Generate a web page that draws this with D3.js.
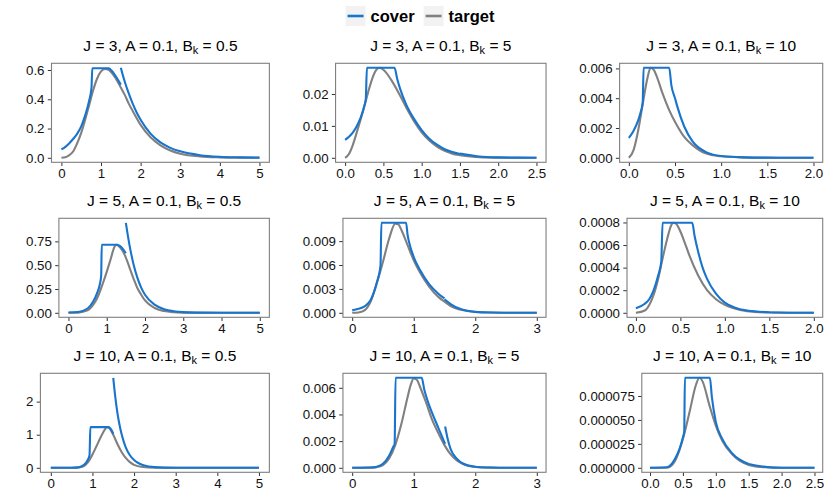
<!DOCTYPE html>
<html><head><meta charset="utf-8">
<script src="https://cdn.jsdelivr.net/npm/d3@7"></script>
<style>body{margin:0;background:#fff}svg{display:block}</style>
</head><body>
<svg id="chart" width="830" height="498"></svg>
<script>
// ---------- data ----------
const seriesNames = ["cover", "target"];
const jValues = [3, 3, 3, 5, 5, 5, 10, 10, 10];
const aValues = ["0.1", "0.1", "0.1", "0.1", "0.1", "0.1", "0.1", "0.1", "0.1"];
const bValues = ["0.5", "5", "10", "0.5", "5", "10", "0.5", "5", "10"];
const xMaxes = [5, 2.5, 2, 5, 3, 2, 5, 3, 2.5];

const xTicks = [
  [0, 1, 2, 3, 4, 5], [0, 0.5, 1, 1.5, 2, 2.5], [0, 0.5, 1, 1.5, 2],
  [0, 1, 2, 3, 4, 5], [0, 1, 2, 3], [0, 0.5, 1, 1.5, 2],
  [0, 1, 2, 3, 4, 5], [0, 1, 2, 3], [0, 0.5, 1, 1.5, 2, 2.5]
];
const xTickLabels = [
  ["0", "1", "2", "3", "4", "5"], ["0.0", "0.5", "1.0", "1.5", "2.0", "2.5"], ["0.0", "0.5", "1.0", "1.5", "2.0"],
  ["0", "1", "2", "3", "4", "5"], ["0", "1", "2", "3"], ["0.0", "0.5", "1.0", "1.5", "2.0"],
  ["0", "1", "2", "3", "4", "5"], ["0", "1", "2", "3"], ["0.0", "0.5", "1.0", "1.5", "2.0", "2.5"]
];
const yTicks = [
  [0, 0.2, 0.4, 0.6], [0, 0.01, 0.02], [0, 0.002, 0.004, 0.006],
  [0, 0.25, 0.5, 0.75], [0, 0.003, 0.006, 0.009], [0, 0.0002, 0.0004, 0.0006, 0.0008],
  [0, 1, 2], [0, 0.002, 0.004, 0.006], [0, 0.000025, 0.00005, 0.000075]
];
const yTickLabels = [
  ["0.0", "0.2", "0.4", "0.6"], ["0.00", "0.01", "0.02"], ["0.000", "0.002", "0.004", "0.006"],
  ["0.00", "0.25", "0.50", "0.75"], ["0.000", "0.003", "0.006", "0.009"], ["0.0000", "0.0002", "0.0004", "0.0006", "0.0008"],
  ["0", "1", "2"], ["0.000", "0.002", "0.004", "0.006"], ["0.000000", "0.000025", "0.000050", "0.000075"]
];

// target curves, [x, y]
const target1 = [[0,0],[0.1,0.004],[0.2,0.018],[0.3,0.045],[0.4,0.1],[0.5,0.17],[0.6,0.26],[0.7,0.36],[0.8,0.46],[0.9,0.54],[1.0,0.59],[1.1,0.607],[1.2,0.6],[1.3,0.57],[1.4,0.53],[1.5,0.48],[1.6,0.43],[1.7,0.37],[1.8,0.32],[2.0,0.225],[2.25,0.14],[2.5,0.085],[2.75,0.05],[3.0,0.028],[3.5,0.009],[4.0,0.003],[4.5,0.001],[5.0,0.0003]];
const target2 = [[0,0],[0.05,0.0012],[0.1,0.004],[0.15,0.0078],[0.2,0.0118],[0.25,0.016],[0.3,0.0205],[0.35,0.0245],[0.4,0.0273],[0.45,0.0282],[0.5,0.0276],[0.6,0.0245],[0.7,0.0203],[0.8,0.0157],[0.9,0.0115],[1.0,0.008],[1.1,0.0054],[1.2,0.0035],[1.3,0.0022],[1.4,0.0013],[1.5,0.0008],[1.75,0.00022],[2.0,0.00005],[2.25,0.00001],[2.5,0]];
const target3 = [[0,0],[0.05,0.0005],[0.1,0.0018],[0.15,0.0036],[0.2,0.0053],[0.235,0.00604],[0.27,0.0059],[0.3,0.0055],[0.366,0.0043],[0.437,0.0032],[0.51,0.0023],[0.6,0.0014],[0.69,0.00085],[0.83,0.0003],[1.0,0.0001],[1.2,0.00003],[1.5,0.000003],[2.0,0]];
const target4 = [[0,0],[0.25,0.002],[0.5,0.025],[0.6,0.06],[0.7,0.115],[0.8,0.2],[0.9,0.31],[1.0,0.43],[1.1,0.56],[1.2,0.69],[1.25,0.715],[1.3,0.705],[1.4,0.66],[1.5,0.58],[1.6,0.47],[1.7,0.36],[1.8,0.26],[1.9,0.19],[2.0,0.13],[2.25,0.05],[2.5,0.018],[2.75,0.006],[3.0,0.002],[3.5,0.0002],[4,0],[5,0]];
const target5 = [[0,0],[0.1,0.00003],[0.2,0.0003],[0.25,0.0007],[0.3,0.0014],[0.4,0.0037],[0.5,0.0064],[0.6,0.0093],[0.7,0.0112],[0.75,0.0111],[0.8,0.0104],[0.9,0.0085],[1.0,0.0066],[1.1,0.0051],[1.25,0.0033],[1.4,0.002],[1.5,0.0014],[1.6,0.00085],[1.75,0.0004],[2.0,0.0001],[2.5,0.000005],[3.0,0]];
const target6 = [[0,0],[0.1,0.00002],[0.15,0.00007],[0.2,0.00016],[0.25,0.0003],[0.3,0.00048],[0.35,0.00065],[0.4,0.00078],[0.42,0.000797],[0.45,0.00079],[0.5,0.00072],[0.55,0.00062],[0.6,0.00051],[0.7,0.00033],[0.8,0.0002],[0.9,0.00012],[1.0,0.00007],[1.1,0.00004],[1.25,0.000015],[1.5,0.000003],[2.0,0]];
const target7 = [[0,0],[0.5,0.001],[0.6,0.004],[0.7,0.015],[0.8,0.06],[0.9,0.18],[1.0,0.4],[1.1,0.66],[1.2,0.93],[1.3,1.16],[1.35,1.23],[1.4,1.21],[1.5,1.0],[1.6,0.72],[1.7,0.48],[1.8,0.3],[1.9,0.17],[2.0,0.09],[2.2,0.025],[2.5,0.003],[3,0],[4,0],[5,0]];
const target8 = [[0,0],[0.3,0.00001],[0.4,0.00005],[0.5,0.0002],[0.6,0.0007],[0.7,0.0017],[0.8,0.0033],[0.9,0.0053],[0.95,0.0062],[1.0,0.0067],[1.05,0.0066],[1.1,0.0061],[1.2,0.0049],[1.3,0.0036],[1.4,0.0026],[1.5,0.0017],[1.6,0.001],[1.7,0.00055],[1.8,0.00028],[2.0,0.00006],[2.25,0.00001],[2.5,0],[3,0]];
const target9 = [[0,0],[0.25,0],[0.3,0.000001],[0.35,0.000004],[0.4,0.00001],[0.5,0.00003],[0.6,0.000058],[0.7,0.000087],[0.75,0.000094],[0.8,0.00009],[0.9,0.000066],[1.0,0.000044],[1.1,0.000028],[1.25,0.000014],[1.5,0.000003],[1.75,0.0000005],[2.0,0],[2.5,0]];

// cover curves, [x, y]; null marks a break between pieces
const cover1 = [[0,0.057],[0.1,0.075],[0.2,0.1],[0.3,0.13],[0.4,0.165],[0.5,0.215],[0.6,0.29],[0.7,0.39],[0.76,0.48],[0.78,0.612],[1.19,0.612],[1.3,0.585],[1.4,0.545],[1.5,0.5],null,[1.5,0.615],[1.55,0.565],[1.6,0.52],[1.7,0.44],[1.8,0.37],[1.9,0.31],[2.0,0.26],[2.25,0.165],[2.5,0.105],[2.75,0.068],[3.0,0.044],[3.5,0.018],[4.0,0.007],[4.5,0.003],[5.0,0.001]];
const cover2 = [[0,0.0056],[0.05,0.0066],[0.1,0.0079],[0.15,0.0098],[0.2,0.0124],[0.25,0.0162],[0.27,0.0185],[0.285,0.0282],[0.645,0.0282],[0.68,0.0248],[0.72,0.0215],[0.8,0.0166],[0.9,0.0122],[1.0,0.0087],[1.1,0.006],[1.2,0.0041],[1.3,0.0027],[1.4,0.0018],[1.5,0.0012],null,[1.5,0.0013],[1.75,0.0004],[2.0,0.00012],[2.25,0.00004],[2.5,0.00001]];
const cover3 = [[0,0.00134],[0.05,0.0018],[0.1,0.0025],[0.13,0.0031],[0.15,0.0037],[0.16,0.00604],[0.437,0.00604],[0.46,0.0049],[0.5,0.004],[0.527,0.0034],[0.6,0.0021],[0.69,0.0011],[0.83,0.0004],[1.0,0.00012],[1.25,0.00003],[1.5,0.00001],null,[1.5,0.00001],[1.75,0.000003],[2.0,0.000001]];
const cover4 = [[0,0.003],[0.25,0.009],[0.5,0.045],[0.65,0.12],[0.75,0.21],[0.82,0.3],[0.855,0.39],[0.87,0.715],[1.28,0.715],[1.35,0.7],[1.4,0.68],[1.45,0.655],[1.5,0.625],null,[1.5,0.945],[1.55,0.815],[1.6,0.7],[1.7,0.51],[1.8,0.37],[1.9,0.265],[2.0,0.19],[2.25,0.085],[2.5,0.038],[2.75,0.017],[3.0,0.0075],[3.5,0.0015],[4.0,0.0003],[5.0,0]];
const cover5 = [[0,0.00033],[0.1,0.0005],[0.2,0.0008],[0.3,0.0016],[0.4,0.0038],[0.46,0.0059],[0.475,0.0113],[0.876,0.0113],[0.9,0.0098],[0.93,0.0087],[1.0,0.007],[1.1,0.0054],[1.25,0.0036],[1.4,0.0024],[1.5,0.0018],null,[1.5,0.0017],[1.6,0.0011],[1.75,0.0005],[2.0,0.00012],[2.25,0.00003],[2.5,0.00001],[3.0,0]];
const cover6 = [[0,0.00004],[0.1,0.00008],[0.15,0.00012],[0.2,0.0002],[0.25,0.00033],[0.285,0.00045],[0.3,0.000797],[0.633,0.000797],[0.66,0.00068],[0.7,0.00054],[0.75,0.0004],[0.8,0.0003],[0.9,0.00017],[1.0,0.00009],[1.1,0.00005],[1.25,0.00002],[1.5,0.000005],null,[1.5,0.000005],[1.75,0.000001],[2.0,0]];
const cover7 = [[0,0],[0.5,0.002],[0.6,0.006],[0.7,0.025],[0.8,0.09],[0.88,0.22],[0.93,0.38],[0.95,1.23],[1.39,1.23],[1.42,1.2],[1.46,1.13],[1.5,1.03],null,[1.5,2.72],[1.55,2.13],[1.6,1.66],[1.65,1.3],[1.7,1.02],[1.75,0.8],[1.8,0.62],[1.9,0.38],[2.0,0.235],[2.1,0.145],[2.25,0.07],[2.5,0.02],[2.75,0.006],[3.0,0.002],[3.5,0.0002],[4,0],[5,0]];
const cover8 = [[0,0],[0.3,0.00002],[0.4,0.00008],[0.5,0.0003],[0.6,0.0009],[0.67,0.0016],[0.69,0.0018],[0.705,0.00675],[1.13,0.00675],[1.17,0.0059],[1.22,0.0051],[1.3,0.0041],[1.4,0.003],[1.51,0.0018],null,[1.51,0.0031],[1.55,0.0022],[1.6,0.0014],[1.7,0.00068],[1.8,0.00032],[2.0,0.00008],[2.25,0.00002],[2.5,0],[3,0]];
const cover9 = [[0,0],[0.25,0.0000005],[0.3,0.000002],[0.4,0.000012],[0.45,0.00002],[0.5,0.000032],[0.52,0.000038],[0.53,0.000094],[0.91,0.000094],[0.94,0.000074],[1.0,0.000048],[1.1,0.00003],[1.25,0.000015],[1.5,0.000004],null,[1.5,0.000004],[1.75,0.000001],[2.0,0],[2.5,0]];

const targets = [target1, target2, target3, target4, target5, target6, target7, target8, target9];
const covers = [cover1, cover2, cover3, cover4, cover5, cover6, cover7, cover8, cover9];

// ---------- drawing ----------
const W = 830, H = 498;
const FONT = "'Liberation Sans', Arial, Helvetica, sans-serif";
const colors = { cover: "#1874CD", target: "#808080" };
const svg = d3.select("#chart");
svg.append("rect").attr("width", W).attr("height", H).attr("fill", "#fff");

const legendH = 33;
const cellW = W / 3, cellH = (H - legendH) / 3;
const tickFont = 13.3, titleFont = 15.5;

function textWidth(str, size, weight) {
  const t = svg.append("text").attr("font-family", FONT).attr("font-size", size)
    .attr("font-weight", weight || "normal").text(str);
  const w = t.node().getComputedTextLength();
  t.remove();
  return w;
}

// legend
(function () {
  const keyW = 20, keyH = 20, gapKT = 5, gapItems = 9;
  const widths = seriesNames.map(s => textWidth(s, 16.5, "bold"));
  const total = seriesNames.length * (keyW + gapKT) + d3.sum(widths) + gapItems;
  let x = 420 - total / 2;
  const g = svg.append("g");
  seriesNames.forEach((s, i) => {
    g.append("rect").attr("x", x).attr("y", 6).attr("width", keyW).attr("height", keyH).attr("fill", "#f2f2f2");
    g.append("line").attr("x1", x + 2).attr("x2", x + keyW - 2).attr("y1", 16).attr("y2", 16)
      .attr("stroke", colors[s]).attr("stroke-width", 2.6);
    x += keyW + gapKT;
    g.append("text").attr("x", x).attr("y", 22).attr("font-family", FONT).attr("font-size", 16.5)
      .attr("font-weight", "bold").attr("fill", "#000").text(s);
    x += widths[i] + gapItems;
  });
})();

targets.forEach((tgt, i) => {
  const col = i % 3, row = Math.floor(i / 3);
  const cx = col * cellW, cy = legendH + row * cellH;
  const labW = d3.max(yTickLabels[i], s => textWidth(s, tickFont));
  const left = cx + 26 + labW + 7;
  const right = cx + cellW - 7.3;
  const top = cy + 30.3, bottom = cy + 129.3;

  const xmax = xMaxes[i];
  const x = d3.scaleLinear().domain([-0.05 * xmax, 1.05 * xmax]).range([left, right]);
  const cov = covers[i];
  const ymax = d3.max([...tgt, ...cov.filter(d => d)], d => d[1]);
  const y = d3.scaleLinear().domain([-0.05 * ymax, 1.05 * ymax]).range([bottom, top]);

  const g = svg.append("g");

  // axes
  const xAxis = d3.axisBottom(x).tickValues(xTicks[i]).tickSize(3.7).tickPadding(2.5)
    .tickFormat((d, k) => xTickLabels[i][k]);
  const gx = g.append("g").attr("transform", `translate(0,${bottom})`).call(xAxis);
  const yAxis = d3.axisLeft(y).tickValues(yTicks[i]).tickSize(3.7).tickPadding(3.3)
    .tickFormat((d, k) => yTickLabels[i][k]);
  const gy = g.append("g").attr("transform", `translate(${left},0)`).call(yAxis);
  [gx, gy].forEach(a => {
    a.select(".domain").remove();
    a.selectAll(".tick line").attr("stroke", "#333").attr("stroke-width", 1);
    a.selectAll(".tick text").attr("font-family", FONT).attr("font-size", tickFont).attr("fill", "#111");
  });

  // lines
  const line = d3.line().defined(d => d !== null).x(d => x(d[0])).y(d => y(d[1])).curve(d3.curveMonotoneX);
  g.append("path").datum(tgt).attr("d", line).attr("fill", "none")
    .attr("stroke", colors.target).attr("stroke-width", 2.1).attr("stroke-linejoin", "round");
  g.append("path").datum(cov).attr("d", line).attr("fill", "none")
    .attr("stroke", colors.cover).attr("stroke-width", 2.1).attr("stroke-linejoin", "round");

  // panel border
  g.append("rect").attr("x", left).attr("y", top).attr("width", right - left).attr("height", bottom - top)
    .attr("fill", "none").attr("stroke", "#7f7f7f").attr("stroke-width", 1.1);

  // title
  const t = g.append("text").attr("x", (left + right) / 2).attr("y", cy + 17.8)
    .attr("text-anchor", "middle").attr("font-family", FONT).attr("font-size", titleFont).attr("fill", "#000");
  t.append("tspan").text(`J = ${jValues[i]}, A = ${aValues[i]}, B`);
  t.append("tspan").attr("font-size", 11).attr("dy", 3.5).text("k");
  t.append("tspan").attr("dy", -3.5).text(` = ${bValues[i]}`);
});
</script>
</body></html>
